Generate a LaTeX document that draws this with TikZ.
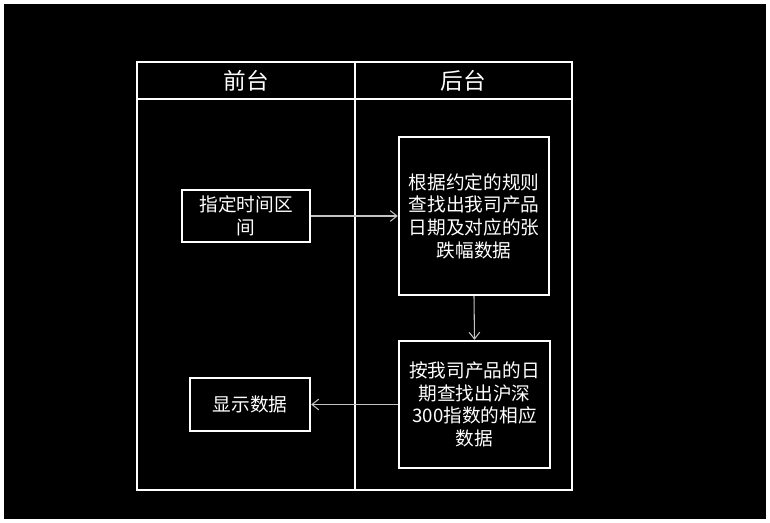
\documentclass[tikz,border=0pt]{standalone}
\usepackage{fontspec}
\setmainfont{Noto Sans CJK SC}
\usetikzlibrary{positioning, arrows.meta}
\definecolor{lanewhite}{RGB}{255,255,255}
\definecolor{flowgrey}{RGB}{195,195,195}
\tikzset{
  lanehead/.style={draw=lanewhite, line width=1.8pt, minimum height=27.75pt,
    inner sep=0pt, text=lanewhite, font=\fontsize{17}{20}\selectfont},
  lanebody/.style={draw=lanewhite, line width=1.8pt, minimum height=293.25pt, inner sep=0pt},
  stepbox/.style={draw=lanewhite, line width=1.8pt, align=center, inner sep=0pt,
    text=lanewhite, font=\fontsize{14}{17}\selectfont},
  flowarrow/.style={draw=flowgrey, line width=0.8pt, -{Straight Barb[length=5pt, width=8pt]}}
}
\begin{document}
\begin{tikzpicture}[x=0.75pt, y=-0.75pt]
  \useasboundingbox (0,0) rectangle (770,523);
  \fill[white] (0,0) rectangle (770,523);
  \fill[black] (4,4) rectangle (766,519);
  % lanes
  \node[lanehead, minimum width=163.5pt] (fronthead) at (246,80.5) {前台};
  \node[lanehead, minimum width=162.75pt] (backhead) at (463.5,80.5) {后台};
  \node[lanebody, minimum width=163.5pt] (frontlane) at (246,294.5) {};
  \node[lanebody, minimum width=162.75pt] (backlane) at (463.5,294.5) {};
  % steps
  \node[stepbox, minimum width=96pt, minimum height=39pt] (pick) at (246,216) {指定时间区\\间};
  \node[stepbox, minimum width=112.5pt, minimum height=118.5pt] (rules) at (474,216)
    {根据约定的规则\\查找出我司产品\\日期及对应的张\\跌幅数据};
  \node[stepbox, minimum width=113pt, minimum height=95.25pt] (index) at (474.5,404.5)
    {按我司产品的日\\期查找出沪深\\300指数的相应\\数据};
  \node[stepbox, minimum width=90pt, minimum height=39.75pt] (show) at (250,404.5) {显示数据};
  % flow
  \draw[flowarrow] (pick.east) -- (rules.west);
  \draw[flowarrow] (rules.south) -- (index.north);
  \draw[flowarrow] (index.west) -- (show.east);
\end{tikzpicture}
\end{document}
